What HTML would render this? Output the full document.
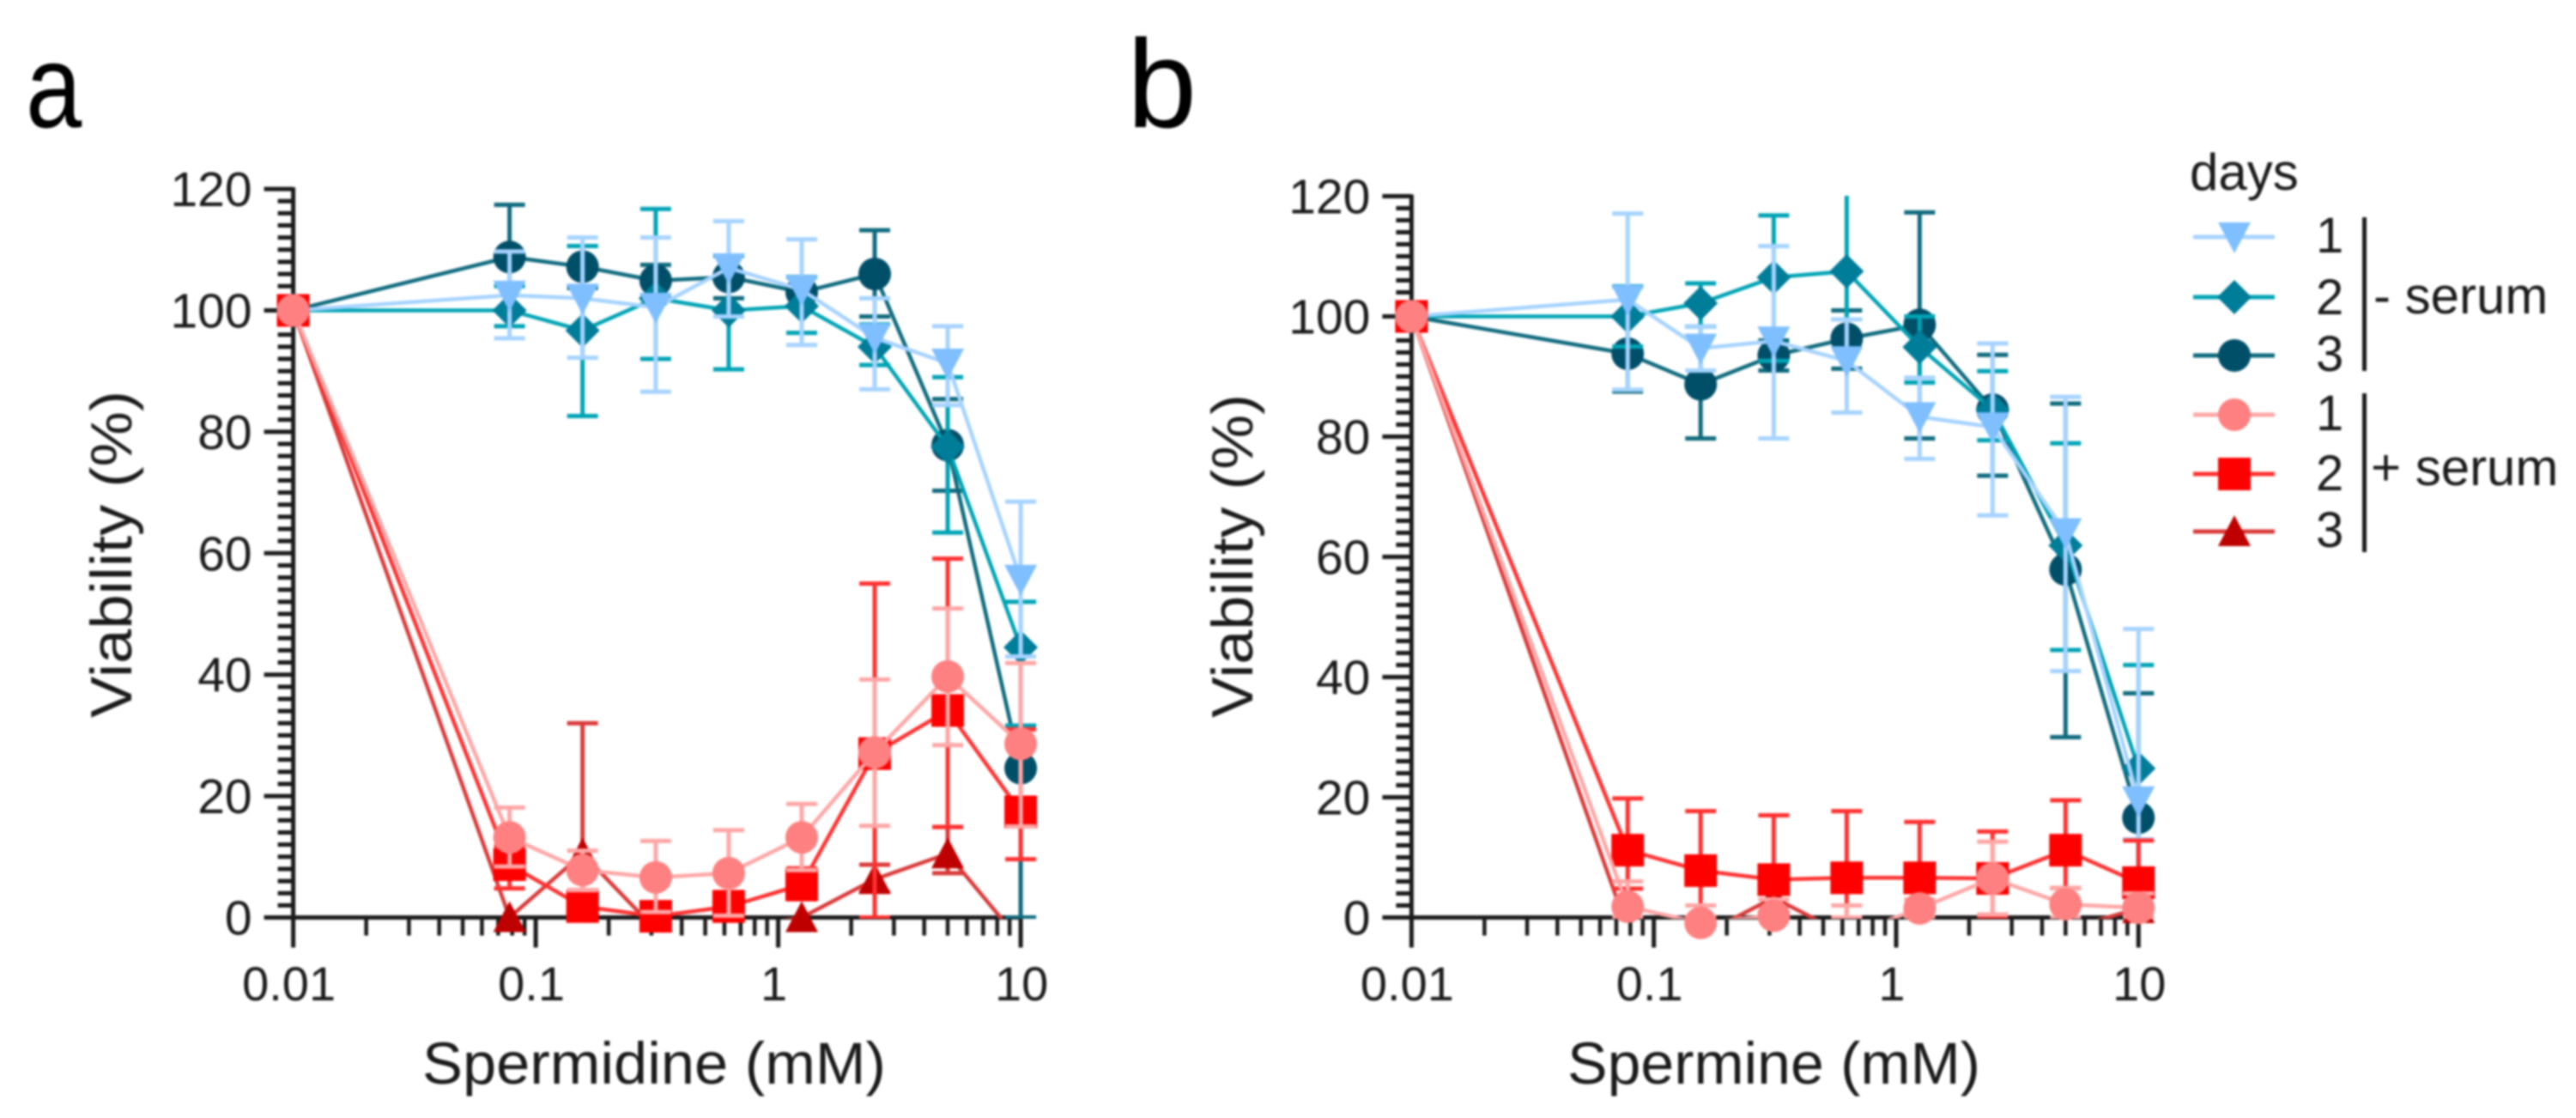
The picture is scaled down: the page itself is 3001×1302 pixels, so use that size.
<!DOCTYPE html>
<html lang="en">
<head>
<meta charset="utf-8">
<title>Viability vs polyamine concentration</title>
<style>
  html, body { margin: 0; padding: 0; background: #fff; }
  body { width: 3001px; height: 1302px; overflow: hidden; }
  svg { display: block; filter: blur(1.2px); font-family: "Liberation Sans", Arial, sans-serif; fill: #1a1a1a; }
</style>
</head>
<body>
<svg id="figure" xmlns="http://www.w3.org/2000/svg" width="3001" height="1302" viewBox="0 0 3001 1302">
  <rect x="0" y="0" width="3001" height="1302" fill="#ffffff"/>
  <defs>
    <clipPath id="clip-a"><rect x="320" y="215" width="890" height="855"/></clipPath>
    <clipPath id="clip-b"><rect x="1620" y="228" width="890" height="842"/></clipPath>
  </defs>

  <text transform="translate(30 148) scale(0.85 1)" font-size="138" fill="#000">a</text>
  <text x="1313" y="148" font-size="146" fill="#000">b</text>

  <g id="panel-a"></g>
  <g id="panel-b"></g>

  <text x="492" y="1262" font-size="69" textLength="540" lengthAdjust="spacingAndGlyphs">Spermidine (mM)</text>
  <text x="1826" y="1262" font-size="69" textLength="481" lengthAdjust="spacingAndGlyphs">Spermine (mM)</text>
  <text transform="translate(153 836) rotate(-90)" font-size="68" textLength="381" lengthAdjust="spacingAndGlyphs">Viability (%)</text>
  <text transform="translate(1459 836) rotate(-90)" font-size="68" textLength="377" lengthAdjust="spacingAndGlyphs">Viability (%)</text>

  <g id="legend">
    <text x="2551" y="221" font-size="60">days</text>
    <rect x="2752" y="253" width="5" height="179" fill="#1a1a1a"/>
    <rect x="2752" y="458" width="5" height="185" fill="#1a1a1a"/>
    <text x="2765" y="365" font-size="60">- serum</text>
    <text x="2762" y="565" font-size="60">+ serum</text>
  </g>
</svg>

<script>
// Shared x values (mM)
const concentrations = [0.01, 0.078, 0.156, 0.3125, 0.625, 1.25, 2.5, 5, 10];
// Axis tick labels
const xTickValues = [0.01, 0.1, 1, 10];
const xTickLabels = ["0.01", "0.1", "1", "10"];
const yTickValues = [0, 20, 40, 60, 80, 100, 120];

// Panel a: spermidine
const aDay1NoSerum = [100, 102.5, 102, 100.5, 107, 103.4, 95.5, 91.3, 55.7];
const aDay1NoSerumUpper = [null, 109.7, 112, 112, 114.7, 111.7, 102, 97.4, 68.5];
const aDay1NoSerumLower = [null, 95.4, 92.2, 86.6, 99, 94.3, 87, 84.4, 43];
const aDay2NoSerum = [100, 100, 96.7, 102, 100, 100.7, 94, 77.5, 44.5];
const aDay2NoSerumUpper = [null, 104, 110.6, 116.7, 109, 105.5, 97.7, 89, 52];
const aDay2NoSerumLower = [null, 97.4, 82.6, 92, 90.3, 96.3, 91, 63.4, 31.6];
const aDay3NoSerum = [100, 108.8, 107.2, 104.9, 105.5, 103, 106, 77.8, 24.6];
const aDay3NoSerumUpper = [null, 117.4, 110.6, 107.5, 109, 105.5, 113.2, 85.4, 31.6];
const aDay3NoSerumLower = [null, 100, 103.7, 102, 102, 100.7, 99, 70.3, 0];
const aDay1Serum = [100, 13.2, 7.8, 6.6, 7.3, 13.2, 27.2, 39.7, 28.6];
const aDay1SerumUpper = [null, 18.1, 11, 12.6, 14.4, 18.7, 39.2, 50.9, 41.9];
const aDay1SerumLower = [null, 8.4, 4.5, 0.9, 0.3, 7.8, 15.1, 28.4, 15];
const aDay2Serum = [100, 8.7, 1.8, 0.2, 1.8, 5.4, 27, 34.1, 17.4];
const aDay2SerumUpper = [null, 11.7, 4.5, 2.4, 4.2, 8.1, 55, 59.1, 31];
const aDay2SerumLower = [null, 4.8, 0, 0, 0, 3, 0, 14.9, 9.6];
const aDay3Serum = [100, 0, 10.5, -2, -2, 0, 6.3, 10.5, -4];
const aDay3SerumUpper = [null, null, 32, null, null, null, 8.7, 14.9, null];
const aDay3SerumLower = [null, null, 0, null, null, null, 4.2, 7.3, null];

// Panel b: spermine
const bDay1NoSerum = [100, 102.8, 94.7, 95.9, 92.6, 83.3, 81.6, 64, 19.4];
const bDay1NoSerumUpper = [null, 117.1, 98.3, 111.7, 99.5, 89.8, 95.5, 86.6, 48];
const bDay1NoSerumLower = [null, 87.8, 91, 79.7, 84, 76.3, 66.9, 41, 13];
const bDay2NoSerum = [100, 100, 102.2, 106.5, 107.5, 94.9, 84.5, 61.9, 24.8];
const bDay2NoSerumUpper = [null, 105, 105.5, 116.8, 128, 100, 90.9, 78.9, 42];
const bDay2NoSerumLower = [null, 95, 98.3, 92.6, 99.5, 89, 79.4, 44.5, 8];
const bDay3NoSerum = [100, 93.8, 88.7, 93.5, 96.3, 98.6, 84.5, 57.9, 16.6];
const bDay3NoSerumUpper = [null, 100, 98.3, 96, 101, 117.3, 93.6, 85.5, 37.3];
const bDay3NoSerumLower = [null, 87.5, 79.7, 91, 91.3, 79.7, 73.5, 30, 6];
const bDay1Serum = [100, 1.8, -0.9, 0.3, -3, 1.5, 6.5, 2.2, 1.6];
const bDay1SerumUpper = [null, 6, 2, 3, 2, 3, 12.6, 4.9, 4];
const bDay1SerumLower = [null, 0, 0, 0, 0, 0, 0.5, 0, 0];
const bDay2Serum = [100, 11.2, 7.8, 6.3, 6.6, 6.6, 6.5, 11.2, 5.8];
const bDay2SerumUpper = [null, 19.8, 17.7, 17, 17.7, 15.9, 14.3, 19.5, 12.8];
const bDay2SerumLower = [null, 4.8, 0, 0, 0, 0, 0.2, 4.9, 0];
const bDay3Serum = [100, -2, -3, 3.3, -3, -3, -3, -2, 1.5];
const bDay3SerumUpper = [null, null, null, 4.5, null, null, null, null, null];
const bDay3SerumLower = [null, null, null, 2, null, null, null, null, null];

// Legend entries
const legendDays = ["1", "2", "3", "1", "2", "3"];

const SVG_NS = "http://www.w3.org/2000/svg";
const INK = "#1a1a1a";

const seriesStyles = {
  day3minus: { shape: "circle",   line: "#0e6a7d", fill: "#004f69" },
  day2minus: { shape: "diamond",  line: "#00a3b4", fill: "#007d99" },
  day1minus: { shape: "triDown",  line: "#a6d3ff", fill: "#7fbfff" },
  day3plus:  { shape: "triUp",    line: "#d93a3a", fill: "#bf0000" },
  day2plus:  { shape: "square",   line: "#ff3030", fill: "#ff0000" },
  day1plus:  { shape: "circle",   line: "#ffa6a6", fill: "#ff8080" }
};

function make(tag, attrs, parent) {
  const el = document.createElementNS(SVG_NS, tag);
  for (const k in attrs) el.setAttribute(k, attrs[k]);
  parent.appendChild(el);
  return el;
}

function drawMarker(parent, shape, x, y, fill, name) {
  let el;
  if (shape === "circle") {
    el = make("circle", { cx: x, cy: y, r: 19, fill: fill }, parent);
  } else if (shape === "square") {
    el = make("rect", { x: x - 19, y: y - 19, width: 38, height: 38, fill: fill }, parent);
  } else if (shape === "diamond") {
    el = make("polygon", { points: [x, y - 20, x + 20, y, x, y + 20, x - 20, y].join(" "), fill: fill }, parent);
  } else if (shape === "triDown") {
    el = make("polygon", { points: [x - 19, y - 17, x + 19, y - 17, x, y + 19].join(" "), fill: fill }, parent);
  } else {
    el = make("polygon", { points: [x - 19, y + 17, x + 19, y + 17, x, y - 19].join(" "), fill: fill }, parent);
  }
  
  
  return el;
}

function drawPanel(panel) {
  const root = document.getElementById(panel.id);
  const xScale = function (c) { return panel.x0 + panel.decade * (Math.log10(c) + 2); };
  const yScale = function (v) { return panel.y0 - panel.unit * v; };
  const xMax = xScale(10);
  const yTop = yScale(120);

  // Y axis
  const yAxis = make("line", { x1: panel.x0, x2: panel.x0, y1: yTop - 2, y2: panel.y0, stroke: INK, "stroke-width": 5 }, root);
  
  
  for (let v = 0; v <= 120; v += 2) {
    const isMajor = v % 20 === 0;
    const tick = make("line", { x1: panel.x0 - (isMajor ? 34 : 18), x2: panel.x0, y1: yScale(v), y2: yScale(v), stroke: INK, "stroke-width": 5 }, root);
    
    
  }
  yTickValues.forEach(function (v) {
    const label = make("text", { x: panel.x0 - 48, y: yScale(v) + 20, "text-anchor": "end", "font-size": 57 }, root);
    label.textContent = String(v);
    
    
  });

  // X axis
  const xAxis = make("line", { x1: panel.x0 - 2, x2: xMax + 2, y1: panel.y0, y2: panel.y0, stroke: INK, "stroke-width": 5 }, root);
  
  
  for (let d = -2; d < 1; d++) {
    for (let m = 2; m <= 9; m++) {
      const px = xScale(m * Math.pow(10, d));
      const minor = make("line", { x1: px, x2: px, y1: panel.y0, y2: panel.y0 + 21, stroke: INK, "stroke-width": 4.5 }, root);
      
      
    }
  }
  xTickValues.forEach(function (c, i) {
    const px = xScale(c);
    const major = make("line", { x1: px, x2: px, y1: panel.y0, y2: panel.y0 + 35, stroke: INK, "stroke-width": 5 }, root);
    
    
    const labelShift = c >= 10 ? 1 : -5;
    const label = make("text", { x: px + labelShift, y: 1165, "text-anchor": "middle", "font-size": 56 }, root);
    label.textContent = xTickLabels[i];
    
    
  });

  // Series
  panel.series.forEach(function (s) {
    const style = seriesStyles[s.key];
    const group = make("g", {}, root);
    
    

    const clipped = make("g", { "clip-path": "url(#" + panel.clip + ")" }, group);
    const pts = concentrations.map(function (c, i) { return xScale(c) + "," + yScale(s.mean[i]); }).join(" ");
    const line = make("polyline", { points: pts, fill: "none", stroke: style.line, "stroke-width": 4.5, "stroke-linejoin": "round" }, clipped);
    
    

    concentrations.forEach(function (c, i) {
      if (s.upper[i] === null || s.lower[i] === null) return;
      const px = xScale(c);
      const top = yScale(s.upper[i]);
      const bot = yScale(s.lower[i]);
      const bar = make("path", {
        d: "M" + (px - 18) + " " + top + "H" + (px + 18) + "M" + px + " " + top + "V" + bot + "M" + (px - 18) + " " + bot + "H" + (px + 18),
        fill: "none", stroke: style.line, "stroke-width": 5
      }, clipped);
      
      
    });

    concentrations.forEach(function (c, i) {
      if (s.mean[i] < -1.5) return;
      drawMarker(group, style.shape, xScale(c), yScale(s.mean[i]), style.fill, s.name + '-point');
    });
  });
}

drawPanel({
  id: "panel-a", clip: "clip-a", x0: 341.6, decade: 282.5, y0: 1068.5, unit: 7.07,
  series: [
    { key: "day3minus", name: "a-day3-no-serum", mean: aDay3NoSerum, upper: aDay3NoSerumUpper, lower: aDay3NoSerumLower },
    { key: "day2minus", name: "a-day2-no-serum", mean: aDay2NoSerum, upper: aDay2NoSerumUpper, lower: aDay2NoSerumLower },
    { key: "day1minus", name: "a-day1-no-serum", mean: aDay1NoSerum, upper: aDay1NoSerumUpper, lower: aDay1NoSerumLower },
    { key: "day3plus",  name: "a-day3-serum",    mean: aDay3Serum,   upper: aDay3SerumUpper,   lower: aDay3SerumLower },
    { key: "day2plus",  name: "a-day2-serum",    mean: aDay2Serum,   upper: aDay2SerumUpper,   lower: aDay2SerumLower },
    { key: "day1plus",  name: "a-day1-serum",    mean: aDay1Serum,   upper: aDay1SerumUpper,   lower: aDay1SerumLower }
  ]
});

drawPanel({
  id: "panel-b", clip: "clip-b", x0: 1644.4, decade: 282.3, y0: 1068.5, unit: 7.0,
  series: [
    { key: "day3minus", name: "b-day3-no-serum", mean: bDay3NoSerum, upper: bDay3NoSerumUpper, lower: bDay3NoSerumLower },
    { key: "day2minus", name: "b-day2-no-serum", mean: bDay2NoSerum, upper: bDay2NoSerumUpper, lower: bDay2NoSerumLower },
    { key: "day1minus", name: "b-day1-no-serum", mean: bDay1NoSerum, upper: bDay1NoSerumUpper, lower: bDay1NoSerumLower },
    { key: "day3plus",  name: "b-day3-serum",    mean: bDay3Serum,   upper: bDay3SerumUpper,   lower: bDay3SerumLower },
    { key: "day2plus",  name: "b-day2-serum",    mean: bDay2Serum,   upper: bDay2SerumUpper,   lower: bDay2SerumLower },
    { key: "day1plus",  name: "b-day1-serum",    mean: bDay1Serum,   upper: bDay1SerumUpper,   lower: bDay1SerumLower }
  ]
});

// Legend
const legendKeys = ["day1minus", "day2minus", "day3minus", "day1plus", "day2plus", "day3plus"];
const legendRowY = [276, 346, 414, 483, 552, 619];
const legendTextY = [294, 366, 432, 501, 571, 637];
const legendRoot = document.getElementById("legend");
legendKeys.forEach(function (key, i) {
  const style = seriesStyles[key];
  const entry = make("g", {}, legendRoot);
  
  
  const swatch = make("line", { x1: 2555, x2: 2650, y1: legendRowY[i], y2: legendRowY[i], stroke: style.line, "stroke-width": 5 }, entry);
  
  
  drawMarker(entry, style.shape, 2603, legendRowY[i], style.fill, 'legend-marker');
  const label = make("text", { x: 2698, y: legendTextY[i], "font-size": 58 }, entry);
  label.textContent = legendDays[i];
  
  
});
</script>
</body>
</html>
